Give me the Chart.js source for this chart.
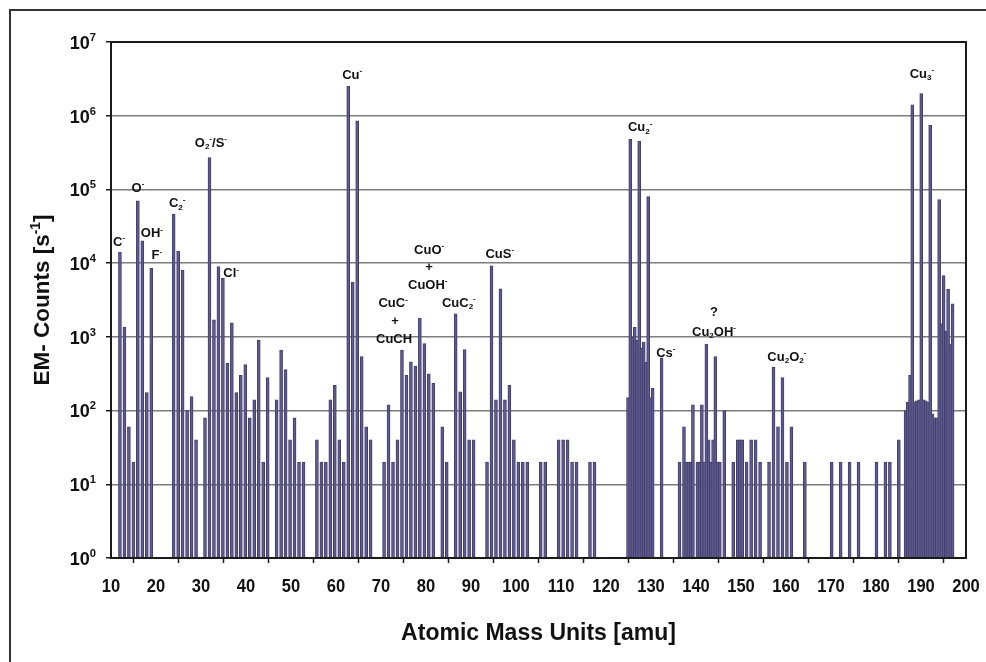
<!DOCTYPE html>
<html><head><meta charset="utf-8">
<script src="https://cdn.jsdelivr.net/npm/chart.js@4.4.1/dist/chart.umd.min.js"></script>
<style>html,body{margin:0;padding:0;background:#fff}#wrap{width:986px;height:662px;position:relative}</style>
</head><body><div id="wrap"><canvas id="c"></canvas></div>
<script>
// ---- data ----
const masses = [12,13,14,15,16,17,18,19,24,25,26,27,28,29,31,32,33,34,35,36,37,38,39,40,41,42,43,44,45,47,48,49,50,51,52,53,
  56,57,58,59,60,61,62,63,64,65,66,67,68,71,72,73,74,75,76,77,78,79,80,81,82,84,85,87,88,89,90,91,94,95,96,97,98,99,
  100,101,102,103,106,107,110,111,112,113,114,117,118,
  125.5,126,126.5,127,127.5,128,128.5,129,129.5,130,130.5,131,133,
  137,138,138.5,139,139.5,140,141,141.5,142,142.5,143,143.5,144,144.5,145,145.5,146,147,
  149,150,150.5,151,152,153,154,155,157,158,159,160,161,162,165,171,173,175,177,181,183,184,186,
  187.5,188,188.5,189,189.5,190,190.5,191,191.5,192,192.5,193,193.5,194,194.5,195,195.5,196,196.5,197,197.5,198];
const counts = [14000,1350,60,20,70000,20000,175,8500,46000,14500,8000,100,155,40,80,270000,1700,9000,6200,440,1550,175,300,420,80,140,900,20,280,140,660,360,40,80,20,20,
  40,20,20,140,220,40,20,2500000,5500,850000,540,60,40,20,120,20,40,660,300,460,400,1800,810,316,234,60,20,2050,180,670,40,40,20,9200,140,4500,140,220,
  40,20,20,20,20,20,40,40,40,20,20,20,20,
  150,480000,1000,1350,900,450000,700,850,450,80000,150,200,520,
  20,60,20,20,20,120,20,20,120,20,800,40,20,40,540,20,20,100,
  20,40,40,40,20,40,40,20,20,390,60,280,20,60,20,20,20,20,20,20,20,20,40,
  100,130,300,1400000,130,136,140,2000000,140,136,130,740000,90,80,80,73000,1500,6800,1200,4400,800,2800];
const xTickValues = [10,20,30,40,50,60,70,80,90,100,110,120,130,140,150,160,170,180,190,200];
const yTickValues = [1,10,100,1000,10000,100000,1000000,10000000];
const yTickLabels = ['10^0','10^1','10^2','10^3','10^4','10^5','10^6','10^7'];
const xTitle = 'Atomic Mass Units [amu]';
const yTitle = 'EM- Counts [s^-^1]';
// peak annotations anchored in data coordinates (amu on the labelled axis, counts)
const peakLabels = [
  {t:'C^-', x:11.8, y:2.0e4},
  {t:'O^-', x:16.0, y:1.07e5},
  {t:'OH^-', x:19.1, y:2.6e4},
  {t:'F^-', x:20.2, y:1.3e4},
  {t:'C_2^-', x:24.7, y:6.6e4},
  {t:'O_2^-/S^-', x:32.2, y:4.4e5},
  {t:'Cl^-', x:36.7, y:7.4e3},
  {t:'Cu^-', x:63.6, y:3.7e6},
  {t:'CuC^-', x:72.7, y:2.9e3},
  {t:'+', x:73.1, y:1.7e3},
  {t:'CuCH', x:72.9, y:9.5e2},
  {t:'CuO^-', x:80.7, y:1.55e4},
  {t:'+', x:80.7, y:9.1e3},
  {t:'CuOH^-', x:80.4, y:5.2e3},
  {t:'CuC_2^-', x:87.3, y:2.95e3},
  {t:'CuS^-', x:96.4, y:1.38e4},
  {t:'Cu_2^-', x:127.6, y:7.1e5},
  {t:'Cs^-', x:133.3, y:6.2e2},
  {t:'?', x:144.0, y:2.2e3},
  {t:'Cu_2OH^-', x:144.0, y:1.2e3},
  {t:'Cu_2O_2^-', x:160.2, y:5.5e2},
  {t:'Cu_3^-', x:190.2, y:3.8e6}
];

const FONT = '"Liberation Sans", Arial, Helvetica, sans-serif';

function parseRich(s){
  const segs=[]; let i=0;
  while(i<s.length){
    const c=s[i];
    if((c==='^'||c==='_') && i+1<s.length){ segs.push({t:s[i+1],m:c==='^'?'sup':'sub'}); i+=2; }
    else { if(segs.length && segs[segs.length-1].m==='n') segs[segs.length-1].t+=c; else segs.push({t:c,m:'n'}); i++; }
  }
  return segs;
}
function richWidth(ctx,segs,size){
  let w=0;
  for(const s of segs){ ctx.font='bold '+(s.m==='n'?size:size*0.62)+'px '+FONT; w+=ctx.measureText(s.t).width; }
  return w;
}
// draws rich text; x anchor per align, y = vertical middle; hs = horizontal scale
function drawRich(ctx,str,x,y,size,align,hs){
  hs = hs||1;
  const segs=parseRich(str);
  const w=richWidth(ctx,segs,size)*hs;
  let sx = align==='center'? x-w/2 : align==='right'? x-w : x;
  ctx.save();
  ctx.translate(sx,y); ctx.scale(hs,1);
  ctx.textBaseline='alphabetic'; ctx.textAlign='left';
  const base = size*0.36;
  let cx=0;
  for(const s of segs){
    const sz = s.m==='n'?size:size*0.62;
    ctx.font='bold '+sz+'px '+FONT;
    let by = base;
    if(s.m==='sup') by = base - size*0.42;
    if(s.m==='sub') by = base + size*0.18;
    ctx.fillText(s.t,cx,by);
    cx += ctx.measureText(s.t).width;
  }
  ctx.restore();
}

const decorPlugin = {
  id:'decor',
  afterDraw(chart){
    const ctx=chart.ctx, a=chart.chartArea, xs=chart.scales.x, ys=chart.scales.y;
    ctx.save();
    // outer frame
    ctx.strokeStyle='#333'; ctx.lineWidth=2;
    ctx.strokeRect(10,10,chart.width+10,chart.height+10);
    // plot border
    ctx.strokeStyle='#1a1a1a'; ctx.lineWidth=2;
    ctx.strokeRect(a.left,a.top,a.right-a.left,a.bottom-a.top);
    ctx.fillStyle='#111';
    // y tick labels
    yTickValues.forEach((v,i)=>{ drawRich(ctx,yTickLabels[i],a.left-15,ys.getPixelForValue(v),19,'right',0.95); });
    // x tick labels
    xTickValues.forEach(v=>{ drawRich(ctx,String(v),xs.getPixelForValue(v),a.bottom+27,19,'center',0.87); });
    // axis titles
    drawRich(ctx,xTitle,(a.left+a.right)/2,a.bottom+74,23,'center',1);
    ctx.save(); ctx.translate(41,(a.top+a.bottom)/2); ctx.rotate(-Math.PI/2);
    drawRich(ctx,yTitle,0,0,22.5,'center',1); ctx.restore();
    // peak labels
    peakLabels.forEach(p=>{ drawRich(ctx,p.t,xs.getPixelForValue(p.x),ys.getPixelForValue(p.y),13,'center',1); });
    ctx.restore();
  }
};

new Chart(document.getElementById('c'),{
  type:'bar',
  data:{ datasets:[{ xAxisID:'xm', data: masses.map((m,i)=>({x:m,y:counts[i]})),
    backgroundColor:'#5f5b8d', borderColor:'#423d6c', borderWidth:{left:1,right:1,top:1,bottom:0},
    barThickness:3, borderSkipped:false }]},
  options:{
    responsive:true, maintainAspectRatio:false, animation:false,
    layout:{padding:{left:106,right:20,top:42,bottom:99}},
    plugins:{legend:{display:false},tooltip:{enabled:false}},
    scales:{
      // mass scale used by the bars (the original plot packs 191 mass slots over the 10-200 axis)
      xm:{ type:'linear', min:10, max:201, display:false, offset:false },
      x:{ type:'linear', min:10, max:200, offset:false, position:'bottom',
          afterBuildTicks(s){ s.ticks = xTickValues.map(v=>({value:v})); },
          ticks:{display:false},
          grid:{drawOnChartArea:false, drawTicks:true, tickLength:5, tickColor:'#1a1a1a', tickWidth:1.5},
          border:{display:false} },
      y:{ type:'logarithmic', min:1, max:1e7,
          afterBuildTicks(s){ s.ticks = yTickValues.map(v=>({value:v})); },
          ticks:{display:false},
          grid:{color:'#7d7d7d', lineWidth:1.5, drawTicks:true, tickLength:5, tickColor:'#1a1a1a', tickWidth:1.5},
          border:{display:false} }
    }
  },
  plugins:[decorPlugin]
});
</script></body></html>
